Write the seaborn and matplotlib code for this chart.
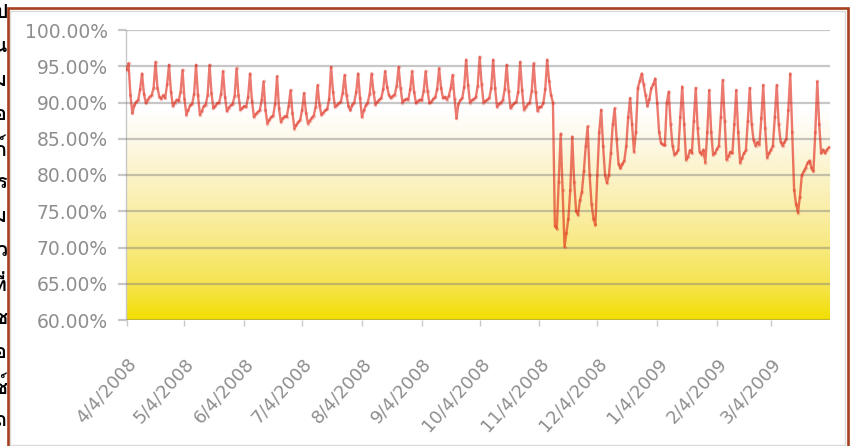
import numpy as np
import pandas as pd
import matplotlib
matplotlib.use("Agg")
import matplotlib.pyplot as plt
import seaborn as sns
from matplotlib.patches import Rectangle
from matplotlib.colors import to_rgb
from matplotlib import font_manager as fm
from matplotlib.ft2font import FT2Font

# ---------------- data ----------------
start_date = "2008-04-04"
utilization = [
    94.5,
    95.4, 91.0, 88.5, 89.6, 90.1, 90.3, 91.8,
    94.0, 91.2, 89.9, 90.4, 90.8, 91.0, 92.0,
    95.6, 92.0, 90.8, 90.5, 91.0, 90.6, 92.5,
    95.2, 91.5, 89.5, 90.0, 90.4, 90.2, 91.5,
    94.5, 90.5, 88.3, 89.0, 89.6, 89.8, 91.2,
    95.2, 91.0, 88.3, 88.8, 89.5, 89.7, 91.0,
    95.2, 91.3, 89.2, 89.5, 89.9, 90.0, 91.2,
    94.3, 90.8, 88.8, 89.3, 89.6, 89.8, 90.9,
    94.7, 91.0, 89.0, 89.2, 89.5, 89.4, 90.8,
    94.0, 90.2, 88.0, 88.4, 88.7, 88.9, 90.3,
    92.9, 89.0, 87.1, 87.6, 88.0, 88.2, 89.8,
    93.6, 89.2, 87.3, 87.8, 88.1, 88.0, 89.5,
    91.7, 88.5, 86.4, 86.9, 87.3, 87.6, 89.0,
    91.3, 88.6, 87.1, 87.5, 87.9, 88.2, 89.4,
    92.4, 89.6, 88.3, 88.6, 88.9, 89.1, 90.5,
    94.9, 91.5, 89.4, 89.6, 89.9, 90.1, 91.3,
    93.8, 91.0, 89.5, 88.9, 89.7, 90.0, 91.4,
    94.0, 90.6, 88.0, 88.9, 89.6, 90.0, 91.2,
    94.0, 91.4, 89.7, 90.1, 90.4, 90.6, 91.8,
    94.3, 92.2, 91.0, 90.6, 90.9, 91.1, 92.3,
    94.9, 92.0, 90.0, 90.3, 90.5, 90.4, 91.8,
    94.3, 91.5, 89.9, 90.2, 90.4, 90.3, 91.6,
    94.3, 91.6, 89.9, 90.1, 90.5, 90.7, 91.9,
    94.7, 92.0, 90.6, 90.8, 90.4, 90.9, 92.0,
    93.8, 90.5, 87.8, 89.8, 90.3, 90.6, 92.2,
    95.9, 92.4, 90.0, 90.3, 90.5, 90.7, 92.3,
    96.3, 92.6, 90.0, 90.2, 90.4, 90.6, 92.0,
    95.9, 92.0, 89.4, 89.8, 90.0, 90.3, 91.8,
    95.2, 91.6, 89.2, 89.6, 89.9, 90.1, 91.5,
    95.6, 91.7, 89.0, 89.4, 89.8, 90.0, 91.6,
    95.4, 91.5, 88.8, 89.4, 89.4, 89.9, 91.8,
    95.9, 93.0, 91.0, 90.0, 73.0, 72.6, 79.0,
    85.7, 78.0, 70.1, 72.0, 74.0, 78.0, 85.3,
    79.0, 75.0, 74.5, 76.5, 77.7, 80.5, 84.0,
    86.7, 80.0, 76.0, 74.0, 73.1, 80.0, 86.0,
    89.0, 84.0, 80.0, 78.9, 80.0, 83.0, 87.0,
    89.2, 85.0, 81.5, 80.9, 81.5, 82.0, 84.0,
    88.0, 90.6, 87.0, 83.2, 86.0, 92.0, 93.0,
    94.0, 92.5, 91.0, 89.5, 90.5, 92.0, 92.5,
    93.3, 90.0, 86.0, 84.4, 84.2, 84.1, 90.0,
    91.5, 87.0, 84.0, 82.8, 83.0, 83.5, 88.0,
    92.2, 87.0, 82.1, 82.5, 83.4, 83.0, 87.5,
    92.0, 86.5, 83.2, 82.8, 83.5, 81.7, 86.0,
    91.7, 86.0, 82.8, 83.0, 83.6, 84.0, 88.0,
    93.1, 87.5, 82.1, 82.6, 83.2, 83.0, 87.0,
    91.7, 86.0, 81.7, 82.3, 83.0, 83.4, 87.5,
    92.0, 87.0, 84.8, 84.0, 84.5, 84.2, 87.8,
    92.4, 86.5, 82.4, 83.0, 83.5, 84.0, 88.0,
    92.4, 87.0, 84.6, 84.0, 84.5, 85.0, 89.0,
    94.0, 86.0, 78.0, 76.0, 74.8, 77.0, 80.0,
    80.5, 81.0, 81.7, 82.0, 81.0, 80.5, 86.0,
    92.9, 87.0, 83.0, 83.5, 83.0, 83.5, 83.8,
]
y_ticks = [60, 65, 70, 75, 80, 85, 90, 95, 100]
y_tick_labels = ["60.00%", "65.00%", "70.00%", "75.00%", "80.00%",
                 "85.00%", "90.00%", "95.00%", "100.00%"]
x_tick_labels = ["4/4/2008", "5/4/2008", "6/4/2008", "7/4/2008", "8/4/2008",
                 "9/4/2008", "10/4/2008", "11/4/2008", "12/4/2008",
                 "1/4/2009", "2/4/2009", "3/4/2009"]
side_text = ["ป", "น", "ม", "อ", "ก์", "ร", "ม", "ว", "ที่", "ช", "อ", "ซ์", "ถ"]

# ---------------- style ----------------
sns.set_theme(style="white")
plt.rcParams["font.family"] = ["DejaVu Sans"]

W, H = 854, 446
fig = plt.figure(figsize=(W / 100, H / 100), dpi=100)
fig.patch.set_facecolor("white")

ax_l, ax_r, ax_t, ax_b = 126, 830, 30, 320
ax = fig.add_axes([ax_l / W, 1 - ax_b / H, (ax_r - ax_l) / W, (ax_b - ax_t) / H])

# gradient background (white at top -> yellow at bottom)
stop_vals = [60, 65, 70, 75, 80, 85, 89, 100]
stop_cols = ["#f3df00", "#f6e452", "#f8e980", "#faeea6", "#fbf3c8", "#fdf9e9", "#ffffff", "#ffffff"]
rgb_stops = np.array([to_rgb(c) for c in stop_cols])
vv = np.linspace(100, 60, 400)
grad = np.stack([np.interp(vv, stop_vals, rgb_stops[:, i]) for i in range(3)], axis=-1)
grad = np.repeat(grad[:, None, :], 4, axis=1)
ax.imshow(grad, extent=[0, 1, 0, 1], transform=ax.transAxes, aspect="auto",
          zorder=0, interpolation="bilinear")

dates = pd.date_range(start_date, periods=len(utilization), freq="D")
df = pd.DataFrame({"date": dates, "util": utilization})

sns.lineplot(data=df, x="date", y="util", ax=ax, color="#e0200f", alpha=0.6,
             lw=1.7, zorder=3)
sns.scatterplot(data=df, x="date", y="util", ax=ax, color="#d81e10", alpha=0.25,
                s=7, linewidth=0, zorder=4)

t0 = pd.Timestamp(start_date)
ax.set_xlim(t0 - pd.Timedelta(days=0.3), t0 + pd.Timedelta(days=364.6))
ax.set_ylim(60, 100)

ax.set_yticks(y_ticks)
ax.set_yticklabels(y_tick_labels)
xt = pd.to_datetime(x_tick_labels, format="%m/%d/%Y")
ax.set_xticks(xt)
ax.set_xticklabels(x_tick_labels, rotation=48, ha="right", va="top",
                   rotation_mode="anchor")
ax.set_xlabel("")
ax.set_ylabel("")

ax.grid(False)
ax.yaxis.grid(True, color="#7a7a7a", alpha=0.42, lw=1.6, zorder=1)
ax.set_axisbelow(False)
for s in ["top", "right", "bottom"]:
    ax.spines[s].set_visible(False)
ax.spines["left"].set_color("#c8c8c8")
ax.spines["left"].set_linewidth(1.0)

ax.tick_params(axis="y", left=True, length=6, width=1.6, color=(0.48, 0.48, 0.48, 0.42),
               pad=7, labelsize=13.5, labelcolor="#8e8e8e")
ax.tick_params(axis="x", bottom=True, length=4, width=1.0, color="#c8c8c8",
               pad=21, labelsize=13, labelcolor="#8e8e8e")

for gl in ax.get_ygridlines():
    gl.set_zorder(1)

# ---------------- frame ----------------
fig.add_artist(Rectangle((7.8 / W, -0.05), (848.2 - 7.8) / W, (H - 7.5) / H + 0.05,
                         transform=fig.transFigure, fill=False,
                         edgecolor="#a3421c", lw=1.9, zorder=10))
fig.add_artist(Rectangle((10.5 / W, 1.0 / H), (845.5 - 10.5) / W, (H - 10.5 - 1.0) / H,
                         transform=fig.transFigure, fill=False,
                         edgecolor="#dadada", lw=1.0, zorder=9))

# ---------------- clipped side text (from surrounding page) ----------------
thai_font = None
for f in fm.fontManager.ttflist:
    if "CJK" in f.name:
        continue
    try:
        if 0x0E1B in FT2Font(f.fname).get_charmap():
            thai_font = f.name
            break
    except Exception:
        pass
if thai_font is not None:
    for i, ch in enumerate(side_text):
        fig.text(7.0 / W, 1 - (13 + 34 * i) / H, ch, ha="right", va="center",
                 fontsize=14, color="black", family=[thai_font], fontweight="bold")

fig.savefig("out.png", dpi=100, facecolor="white")
